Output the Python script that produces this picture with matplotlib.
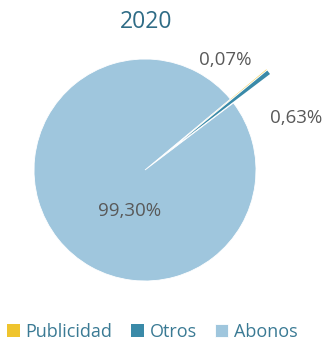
import matplotlib.pyplot as plt

# datos
categorias = ["Publicidad", "Otros", "Abonos"]
porcentajes = [0.07, 0.63, 99.30]
colores = ["#EFC42E", "#3A8AA8", "#9FC6DD"]
separacion = [0.42, 0.42, 0]

plt.rcParams['font.family'] = ['Open Sans', 'DejaVu Sans']

fig = plt.figure(figsize=(3.24, 3.42), dpi=100)
ax = fig.add_axes([0, 0, 1, 1])

R = 111.0  # radio en pixeles
cx, cy = 145.0, 170.0  # centro en pixeles (desde arriba)

wedges, texts, autotexts = ax.pie(
    porcentajes, colors=colores, explode=separacion,
    startangle=39.7, counterclock=False,
    autopct=lambda p: f"{p:.2f}%".replace('.', ','),
    wedgeprops=dict(edgecolor="white", linewidth=0.6),
    textprops=dict(color="#595959", fontsize=13.5),
)
# las cuñas finas sin borde para que se vean
for w in wedges[:2]:
    w.set_linewidth(0)

# posiciones de etiquetas (px)
pos_etiquetas = [(225, 60), (296, 118), (130, 211)]
for t, (px, py) in zip(autotexts, pos_etiquetas):
    t.set_position(((px - cx) / R, (cy - py) / R))
    t.set_ha("center")
    t.set_va("center")

ax.set_xlim(-cx / R, (324 - cx) / R)
ax.set_ylim(-(342 - cy) / R, cy / R)
ax.set_aspect("equal")
ax.axis("off")

fig.text(146 / 324, 1 - 22 / 342, "2020", ha="center", va="center",
         fontsize=16.5, color="#2F6C86")

fig.legend(wedges, categorias, loc="center", ncol=3,
           bbox_to_anchor=(152 / 324, 10 / 342), frameon=False,
           fontsize=13, labelcolor="#3A7A94",
           handlelength=0.75, handleheight=0.75, handletextpad=0.3,
           columnspacing=1.0, borderpad=0)

fig.savefig("out.png", dpi=100)
